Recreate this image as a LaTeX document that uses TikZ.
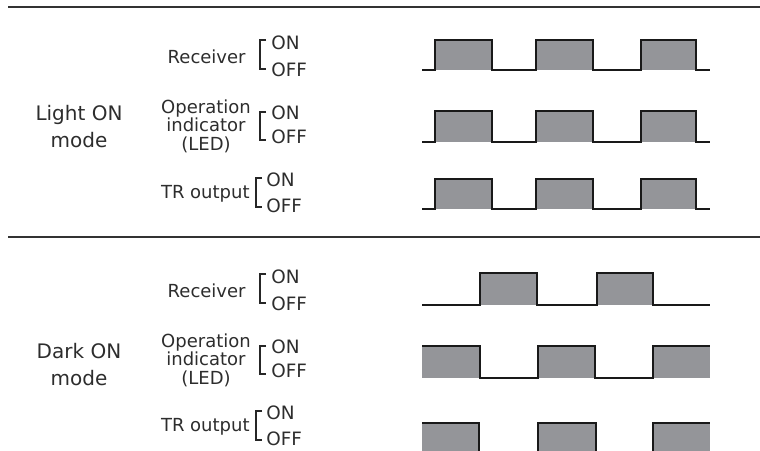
\documentclass[tikz,border=0pt]{standalone}
\usepackage{fontspec}
\setmainfont{DejaVu Sans}
\usepackage{xcolor}
\usetikzlibrary{positioning}

\definecolor{pulsegray}{RGB}{148,149,153}
\definecolor{inkgray}{RGB}{45,45,45}

\begin{document}
\begin{tikzpicture}[x=0.5pt, y=-0.5pt,
        lbl/.style={font=\fontsize{9}{9.3}\selectfont, text=inkgray, inner sep=0pt, align=center},
        modelbl/.style={font=\fontsize{10}{13.5}\selectfont, text=inkgray, inner sep=0pt, align=center},
        state/.style={font=\fontsize{9.2}{10}\selectfont, text=inkgray, inner sep=0pt, anchor=west},
        bracket/.style={line width=0.65pt, draw=black!85},
        sep/.style={line width=1.2pt, draw=black!80},
        wave/.style={line width=0.8pt, draw=black!90},
        pulse/.style={fill=pulsegray}
    ]
        \clip (0,0) rectangle (760,450);

        % separators
        \coordinate (topL) at (8,7);
        \coordinate (topR) at (760,7);
        \coordinate (midL) at (8,237);
        \coordinate (midR) at (760,237);
        \draw [sep] (topL) -- (topR);
        \draw [sep] (midL) -- (midR);

        % Light ON mode
        \node [modelbl] (lightmode) at (79,127) {Light ON\\mode};

        \node [lbl, anchor=east] (lrcv) at (246,57) {Receiver};
        \draw [bracket] (266,40) -- (260,40) -- (260,69) -- (266,69);
        \node [state] (lrcvon) at (271,43) {ON};
        \node [state] (lrcvoff) at (271,70) {OFF};

        \node [lbl] (lled) at (206,126) {Operation\\indicator\\(LED)};
        \draw [bracket] (266,112) -- (260,112) -- (260,140) -- (266,140);
        \node [state] (lledon) at (271,113) {ON};
        \node [state] (lledoff) at (271,137) {OFF};

        \node [lbl, anchor=east] (ltr) at (250,194) {TR output};
        \draw [bracket] (262,178) -- (256,178) -- (256,207) -- (262,207);
        \node [state] (ltron) at (266,180) {ON};
        \node [state] (ltroff) at (266,206) {OFF};

        \foreach \hi/\lo in {40/70, 111/142, 179/209} {
            \foreach \a/\b in {435/492, 536/593, 641/696}
                \fill [pulse] (\a,\hi) rectangle (\b,\lo);
            \draw [wave] (422,\lo)
                \foreach \a/\b in {435/492, 536/593, 641/696} {
                    -- (\a,\lo) -- (\a,\hi) -- (\b,\hi) -- (\b,\lo)
                } -- (710,\lo);
        }

        % Dark ON mode
        \node [modelbl] (darkmode) at (79,365) {Dark ON\\mode};

        \node [lbl, anchor=east] (drcv) at (246,291) {Receiver};
        \draw [bracket] (266,274) -- (260,274) -- (260,303) -- (266,303);
        \node [state] (drcvon) at (271,277) {ON};
        \node [state] (drcvoff) at (271,304) {OFF};

        \node [lbl] (dled) at (206,360) {Operation\\indicator\\(LED)};
        \draw [bracket] (266,346) -- (260,346) -- (260,374) -- (266,374);
        \node [state] (dledon) at (271,347) {ON};
        \node [state] (dledoff) at (271,371) {OFF};

        \node [lbl, anchor=east] (dtr) at (250,427) {TR output};
        \draw [bracket] (262,411) -- (256,411) -- (256,440) -- (262,440);
        \node [state] (dtron) at (266,413) {ON};
        \node [state] (dtroff) at (266,439) {OFF};

        % receiver: low first
        \foreach \a/\b in {480/537, 597/653}
            \fill [pulse] (\a,273) rectangle (\b,305);
        \draw [wave] (422,305)
            \foreach \a/\b in {480/537, 597/653} {
                -- (\a,305) -- (\a,273) -- (\b,273) -- (\b,305)
            } -- (710,305);

        % LED and TR output: high first
        \foreach \hi/\lo/\c/\d/\e/\f in {346/378/480/538/595/653, 423/455/479/538/596/653} {
            \foreach \a/\b in {422/\c, \d/\e, \f/710}
                \fill [pulse] (\a,\hi) rectangle (\b,\lo);
            \draw [wave] (422,\hi) -- (\c,\hi) -- (\c,\lo) -- (\d,\lo) -- (\d,\hi)
                -- (\e,\hi) -- (\e,\lo) -- (\f,\lo) -- (\f,\hi) -- (710,\hi);
        }

    \end{tikzpicture}
\end{document}
